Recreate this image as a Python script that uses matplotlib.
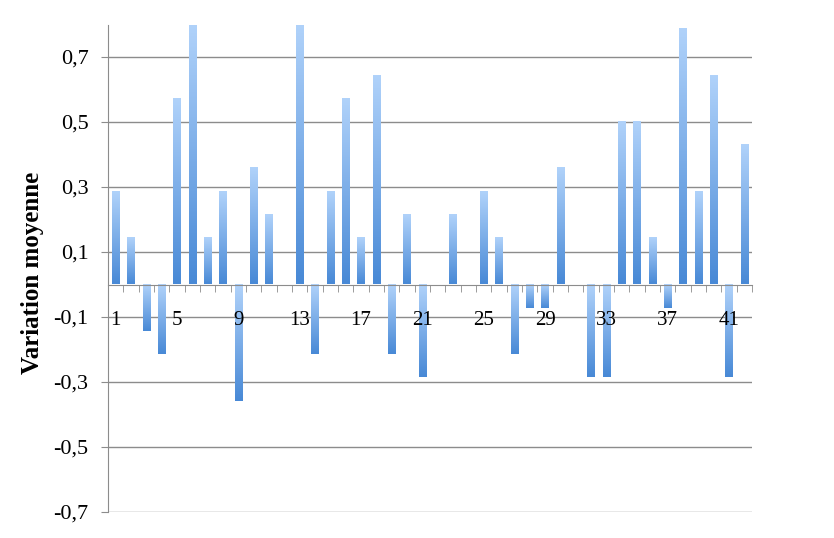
import numpy as np
import matplotlib
matplotlib.use('Agg')
import matplotlib.pyplot as plt
from matplotlib.colors import LinearSegmentedColormap

# valeurs (multiples de 1/14)
categories = list(range(1, 43))
variation = [0.2857, 0.1429, -0.1429, -0.2143, 0.5714, 0.8571, 0.1429, 0.2857, -0.3571, 0.3571,
             0.2143, 0.0, 0.8571, -0.2143, 0.2857, 0.5714, 0.1429, 0.6429, -0.2143, 0.2143,
             -0.2857, 0.0, 0.2143, 0.0, 0.2857, 0.1429, -0.2143, -0.0714, -0.0714, 0.3571,
             0.0, -0.2857, -0.2857, 0.5, 0.5, 0.1429, -0.0714, 0.7857, 0.2857, 0.6429,
             -0.2857, 0.4286]
yticks = [-0.7, -0.5, -0.3, -0.1, 0.1, 0.3, 0.5, 0.7]
xlabels = [1, 5, 9, 13, 17, 21, 25, 29, 33, 37, 41]

serif = 'Liberation Serif'
grid_col = '#8c8c8c'

fig = plt.figure(figsize=(8.34, 5.38), dpi=100)
ax = fig.add_axes([108/834, 1-512/538, 644/834, 487.5/538])

x = np.arange(len(categories))
ymin, ymax = -0.7, 0.8
bars = ax.bar(x, variation, width=0.46, color='none', edgecolor='none', zorder=3)

cmap = LinearSegmentedColormap.from_list('bleu', ['#4889d6', '#b0d2fa'])
grad = np.linspace(0, 1, 100).reshape(-1, 1)
for b, v in zip(bars, variation):
    if v == 0:
        continue
    x0 = b.get_x()
    x1 = x0 + b.get_width()
    lo = max(min(0, v), ymin)
    hi = min(max(0, v), ymax)
    ax.imshow(grad, cmap=cmap, origin='lower', aspect='auto',
              extent=[x0, x1, lo, hi], zorder=3, interpolation='bilinear')

ax.set_xlim(-0.5, len(categories) - 0.5)
ax.set_ylim(ymin, ymax)

for yv in yticks:
    ax.axhline(yv, color=grid_col, lw=1.0, zorder=1)

ax.spines['top'].set_visible(False)
ax.spines['right'].set_visible(False)
ax.spines['left'].set_color(grid_col)
ax.spines['bottom'].set_color(grid_col)
ax.spines['bottom'].set_position(('data', 0))
ax.spines['bottom'].set_zorder(4)
ax.xaxis.set_zorder(5)

ax.set_yticks(yticks)
ax.set_yticklabels([('%.1f' % t).replace('.', ',') for t in yticks],
                   fontfamily=serif, fontsize=16)
ax.tick_params(axis='y', length=5, color=grid_col, pad=9)

ax.set_xticks([c - 1 for c in xlabels])
ax.set_xticklabels([str(c) for c in xlabels], fontfamily=serif, fontsize=15)
ax.set_xticks(np.arange(len(categories) + 1) - 0.5, minor=True)
ax.tick_params(axis='x', which='major', length=0, pad=19)
ax.tick_params(axis='x', which='minor', length=5, color=grid_col, direction='out')

ax.set_ylabel('Variation moyenne', fontfamily=serif, fontweight='bold', fontsize=18)
ax.yaxis.set_label_coords(-0.1, 0.49)

fig.savefig('out.png', dpi=100)
